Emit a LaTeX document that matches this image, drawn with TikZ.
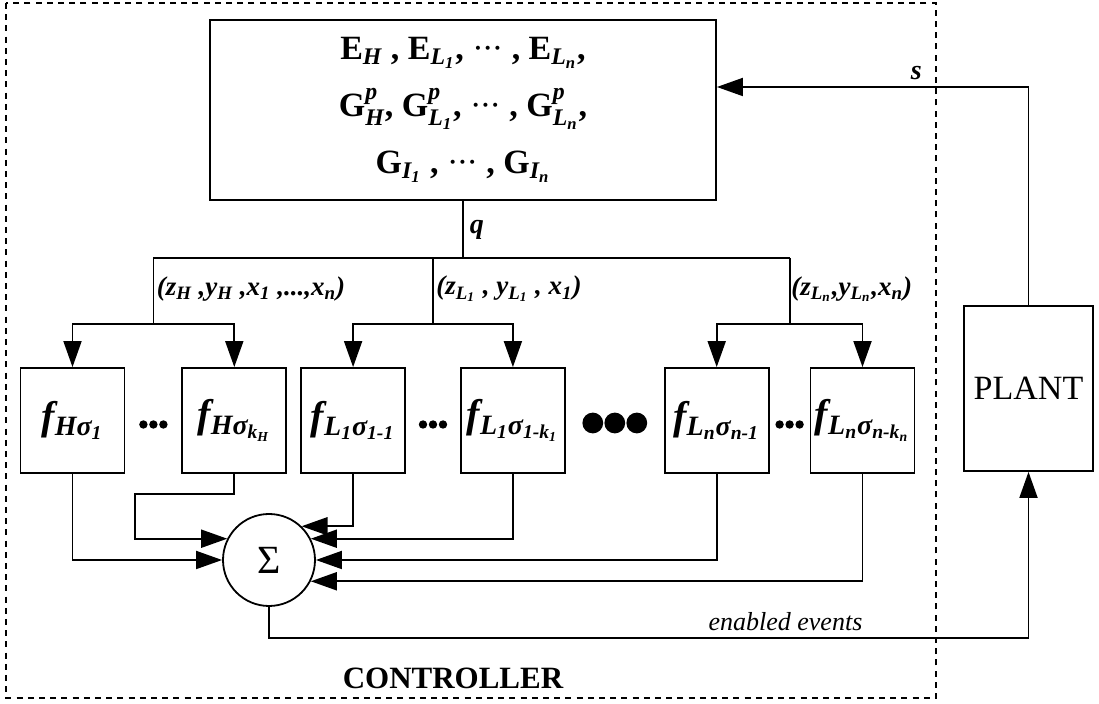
\documentclass[tikz,border=0pt]{standalone}
\usepackage{amsmath}
\usepackage{fontspec}
\setmainfont{Liberation Serif}
\usepackage{tikz}
\usetikzlibrary{arrows.meta,positioning,calc}
\renewcommand{\defaultscriptscriptratio}{.6}
\newcommand{\subx}[1]{\ensuremath{_{\text{#1}}}}
\newcommand{\supsubx}[2]{\ensuremath{^{\text{#1}}_{\text{#2}}}}
\newcommand{\tdots}{{\mdseries\textperiodcentered\kern-0.8pt\textperiodcentered\kern-0.8pt\textperiodcentered}}
\tikzset{%
  % blocks
  blk/.style={draw, line width=0.9pt, inner sep=0pt},
  fblock/.style={blk, minimum width=52pt, minimum height=52.5pt,
    font=\fontsize{20}{22}\selectfont\bfseries\itshape},
  sumnode/.style={draw, circle, line width=0.9pt, minimum size=46pt, inner sep=0pt,
    font=\fontsize{20}{20}\selectfont},
  % connectors
  conn/.style={line width=0.9pt},
  arr/.style={conn, -{Triangle[length=13pt, width=9pt]}},
  ctrlframe/.style={line width=0.9pt, dash pattern=on 3pt off 2.6pt},
  % labels
  lbl/.style={font=\fontsize{13.5}{14}\selectfont\bfseries\itshape, inner sep=1.5pt},
}
\begin{document}
\begin{tikzpicture}[x=0.5pt, y=-0.5pt]
  \useasboundingbox (0,0) rectangle (1099,704);
  \draw[ctrlframe] (6,3) rectangle (936,698);
  \node[font=\fontsize{15.5}{16}\selectfont\bfseries] (ctrl) at (453,678) {CONTROLLER};

  \node[blk, minimum width=253pt, minimum height=90pt, align=center,
    font=\fontsize{17}{28.5}\selectfont\bfseries] (tables) at (463,110)
    {E\subx{\itshape H} , E\subx{\itshape L\subx{1}}, \tdots\ , E\subx{\itshape L\subx{n}},\\
     G\supsubx{\itshape p}{\itshape H}, G\supsubx{\itshape p}{\itshape L\subx{1}}, \tdots\ , G\supsubx{\itshape p}{\itshape L\subx{n}},\\
     G\subx{\itshape I\subx{1}} , \tdots\ , G\subx{\itshape I\subx{n}}};

  \node[fblock] (f1) at (72.5,420.5) {f\subx{Hσ\subx{1}}};
  \node[fblock, right=28pt of f1] (f2) {f\subx{Hσ\subx{k\subx{H}}}};
  \node[fblock, right=6.5pt of f2] (f3) {f\subx{L\subx{1}σ\subx{1-1}}};
  \node[fblock, right=27pt of f3] (f4) {f\subx{L\subx{1}σ\subx{1-k\subx{1}}}};
  \node[fblock, right=49pt of f4] (f5) {f\subx{L\subx{n}σ\subx{n-1}}};
  \node[fblock, right=20pt of f5] (f6) {f\subx{L\subx{n}σ\subx{n-k\subx{n}}}};

  \node[blk, minimum width=64.5pt, minimum height=82.5pt,
    font=\fontsize{17}{17}\selectfont] (plant) at (1028.5,388.5) {PLANT};
  \node[sumnode] (sum) at (269,560) {Σ};

  % dots between the blocks
  \foreach \a/\b in {f1/f2, f3/f4, f5/f6}
    \foreach \k in {-1,0,1}
      \fill ($(\a.east)!0.5!(\b.west)+(\k*10,4)$) circle[radius=2.1pt];
  \foreach \k in {-1,0,1}
    \fill ($(f4.east)!0.5!(f5.west)+(\k*22,2.5)$) circle[radius=5.2pt];

  % distribution of q
  \coordinate (busy) at (0,258);
  \coordinate (bry) at (0,324);
  \coordinate (lbly) at (0,289);
  \coordinate (mH) at ($(f1.north)!0.5!(f2.north)$);
  \coordinate (mL) at ($(f3.north)!0.5!(f4.north)$);
  \coordinate (mLn) at ($(f5.north)!0.5!(f6.north)$);
  \draw[conn] (tables.south) -- (tables.south |- busy)
    node[lbl, midway, right, inner sep=3pt, font=\fontsize{14}{14}\selectfont\bfseries\itshape] (q) {q};
  \draw[conn] (mH |- busy) -- (mLn |- busy);
  \foreach \m/\a/\b in {mH/f1/f2, mL/f3/f4, mLn/f5/f6} {
    \draw[conn] (\m |- busy) -- (\m |- bry);
    \draw[arr] (\m |- bry) -| (\a.north);
    \draw[arr] (\m |- bry) -| (\b.north);
  }
  \node[lbl, right] (lblH) at (mH |- lbly) {(z\subx{H} ,y\subx{H} ,x\subx{1} ,...,x\subx{n})};
  \node[lbl, right] (lblL) at (mL |- lbly) {(z\subx{L\subx{1}} , y\subx{L\subx{1}} , x\subx{1})};
  \node[lbl, right] (lblLn) at (788,289) {(z\subx{L\subx{n}},y\subx{L\subx{n}},x\subx{n})};

  % into the sum
  \coordinate (kink) at (135,494);
  \draw[arr] (f1.south) |- (sum.180);
  \draw[arr] (f2.south) |- (kink) |- (sum.153);
  \draw[arr] (f3.south) |- (sum.46);
  \draw[arr] (f4.south) |- (sum.27);
  \draw[arr] (f5.south) |- (sum.0);
  \draw[arr] (f6.south) |- (sum.-27);

  % to and from the plant
  \draw[arr] (sum.south) -- ++(0,31) -| node[pos=0.34, above, inner sep=3pt,
    font=\fontsize{13}{13}\selectfont\itshape] (ev) {enabled events} (plant.south);
  \draw[arr] (plant.north) |- node[pos=0.68, above, inner sep=3pt,
    font=\fontsize{14}{14}\selectfont\bfseries\itshape] (s) {s} (tables.east |- 0,87);
\end{tikzpicture}
\end{document}
